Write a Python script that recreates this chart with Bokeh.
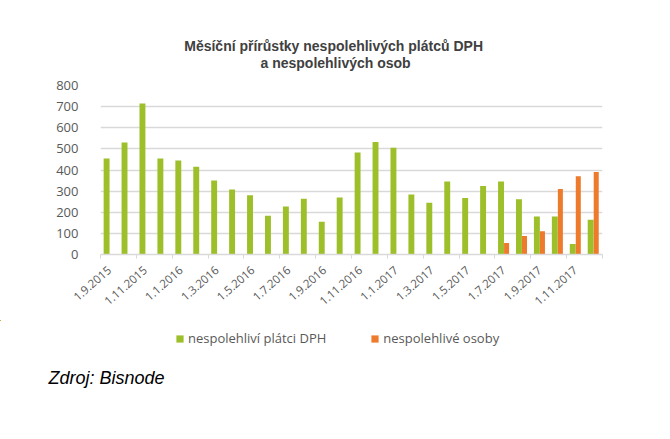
import numpy as np
from bokeh.plotting import figure
from bokeh.layouts import column, row
from bokeh.models import (Range1d, FixedTicker, Legend, LegendItem, Label,
                          ColumnDataSource)
from bokeh.transform import dodge
from bokeh.embed import file_html
from bokeh.resources import INLINE

# ---- data ----
months = ["1.9.2015", "1.10.2015", "1.11.2015", "1.12.2015",
          "1.1.2016", "1.2.2016", "1.3.2016", "1.4.2016", "1.5.2016", "1.6.2016",
          "1.7.2016", "1.8.2016", "1.9.2016", "1.10.2016", "1.11.2016", "1.12.2016",
          "1.1.2017", "1.2.2017", "1.3.2017", "1.4.2017", "1.5.2017", "1.6.2017",
          "1.7.2017", "1.8.2017", "1.9.2017", "1.10.2017", "1.11.2017", "1.12.2017"]
platci_dph = [455, 530, 715, 455, 445, 415, 350, 308, 280, 183,
              227, 264, 155, 270, 483, 532, 505, 284, 245, 346,
              267, 324, 346, 262, 180, 180, 50, 164]
osoby = [None] * 22 + [54, 87, 110, 310, 371, 390]
y_ticks = [0, 100, 200, 300, 400, 500, 600, 700, 800]
series_names = ["nespolehliví plátci DPH", "nespolehlivé osoby"]
title_lines = ["Měsíční  přírůstky nespolehlivých  plátců DPH",
               "a nespolehlivých  osob"]
source_note = "Zdroj: Bisnode"

GREEN = "#9dbf2a"
ORANGE = "#ee7a2c"
GRAY_TXT = "#595959"
GRID = "#d9d9d9"
W = 670


def blank(height):
    f = figure(width=W, height=height, output_backend="svg", toolbar_location=None,
               x_range=Range1d(0, W), y_range=Range1d(0, height),
               min_border=0, x_axis_type=None, y_axis_type=None)
    f.outline_line_color = None
    f.xgrid.visible = False
    f.ygrid.visible = False
    f.background_fill_color = "white"
    f.border_fill_color = "white"
    return f


# ---- header with the two-line title ----
HEAD_H = 75
head = blank(HEAD_H)
for k, line in enumerate(title_lines):
    head.add_layout(Label(x=337, y=30 - 17 * k, x_units="screen", y_units="screen",
                          text=line, text_align="center", text_baseline="middle",
                          text_font="Liberation Sans", text_font_style="bold",
                          text_font_size="14px", text_color="#404040"))

# ---- main chart ----
n = len(months)
idx = np.arange(n)
src_g = ColumnDataSource(dict(x=idx + 0.5 - 0.16, top=platci_dph))
src_o = ColumnDataSource(dict(x=idx + 0.5 + 0.15,
                              top=[np.nan if v is None else v for v in osoby]))

p = figure(width=W, height=245, output_backend="svg", toolbar_location=None,
           x_range=Range1d(0, n), y_range=Range1d(0, 800),
           min_border_left=100, min_border_right=68,
           min_border_top=10, min_border_bottom=66)
p.outline_line_color = None
p.background_fill_color = "white"
p.border_fill_color = "white"

p.vbar(x="x", top="top", width=0.33, bottom=0, source=src_g,
       fill_color=GREEN, line_color=None)
p.vbar(x="x", top="top", width=0.28, bottom=0, source=src_o,
       fill_color=ORANGE, line_color=None)

p.yaxis.ticker = FixedTicker(ticks=y_ticks)
p.yaxis.axis_line_color = None
p.yaxis.major_tick_line_color = None
p.yaxis.minor_tick_line_color = None
p.yaxis.major_label_standoff = 16
p.yaxis.major_label_text_font = "Open Sans"
p.yaxis.major_label_text_font_size = "13px"
p.yaxis.major_label_text_color = GRAY_TXT
p.ygrid.ticker = FixedTicker(ticks=y_ticks)
p.ygrid.grid_line_color = GRID
p.ygrid.grid_line_width = 1.5
p.xgrid.grid_line_color = None

centers = [i + 0.5 for i in range(0, n, 2)]
bounds = [float(i) for i in range(0, n + 1, 2)]
p.xaxis.ticker = FixedTicker(ticks=centers, minor_ticks=bounds)
p.xaxis.major_label_overrides = {i + 0.5: months[i] for i in range(0, n, 2)}
p.xaxis.major_tick_line_color = None
p.xaxis.minor_tick_in = 0
p.xaxis.minor_tick_out = 4
p.xaxis.minor_tick_line_color = GRID
p.xaxis.axis_line_color = GRID
p.xaxis.axis_line_width = 1.5
p.xaxis.major_label_orientation = 0.72
p.xaxis.major_label_standoff = 8
p.xaxis.major_label_text_font = "Open Sans"
p.xaxis.major_label_text_font_size = "11.5px"
p.xaxis.major_label_text_color = GRAY_TXT

# ---- footer with legend and source note ----
FOOT_H = 119
foot = blank(FOOT_H)
# legend proxies: same series, shifted far out of the footer's view
lg = foot.vbar(x=dodge("x", -2 * W), top=dodge("top", 20 * FOOT_H),
               bottom=dodge("top", 20 * FOOT_H), width=1,
               source=src_g, fill_color=GREEN, line_color=None)
lo = foot.vbar(x=dodge("x", -2 * W), top=dodge("top", 20 * FOOT_H),
               bottom=dodge("top", 20 * FOOT_H), width=1,
               source=src_o, fill_color=ORANGE, line_color=None)
legend = Legend(items=[LegendItem(label=series_names[0], renderers=[lg]),
                       LegendItem(label=series_names[1], renderers=[lo])],
                orientation="horizontal", location=(175, 92),
                glyph_width=9, glyph_height=9, label_height=12,
                label_standoff=4, spacing=44, padding=0, margin=0,
                label_text_font="Open Sans", label_text_font_size="13px",
                label_text_color=GRAY_TXT, border_line_color=None,
                background_fill_alpha=0)
foot.add_layout(legend, "center")
foot.add_layout(Label(x=48, y=62, x_units="screen", y_units="screen",
                      text=source_note, text_align="left", text_baseline="middle",
                      text_font="Liberation Sans", text_font_style="italic",
                      text_font_size="18px", text_color="black"))

layout = column(row(head), p, row(foot), spacing=0)
open("out.html", "w").write(file_html(layout, INLINE))
